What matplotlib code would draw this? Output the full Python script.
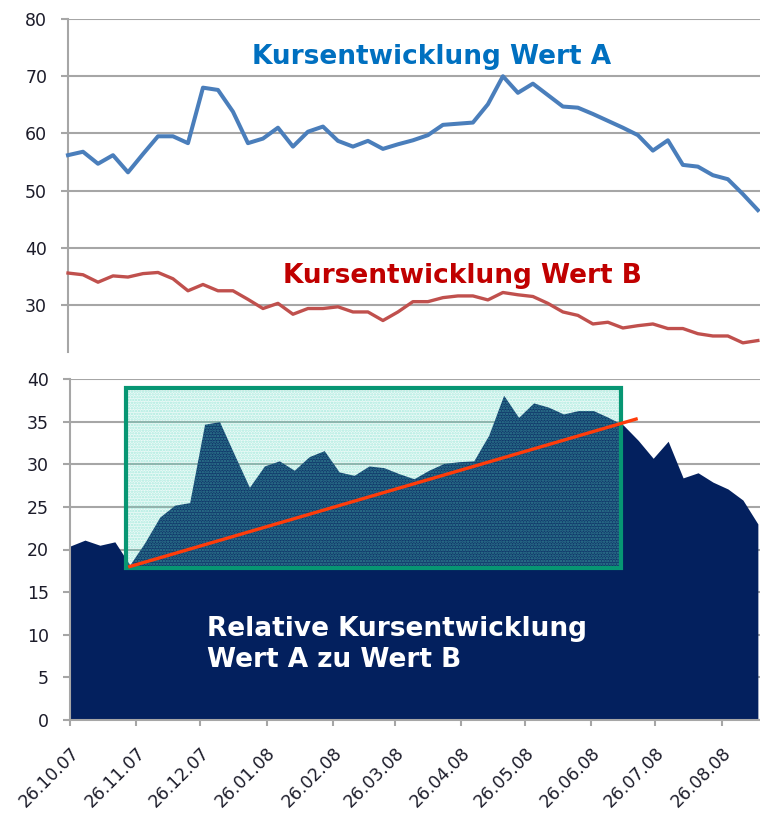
import matplotlib.pyplot as plt
import matplotlib.dates as mdates
from matplotlib.patches import Rectangle
import pandas as pd

# Wochenwerte
start_datum = '2007-10-26'
wert_a = [56.2, 56.8, 54.7, 56.2, 53.2, 56.4, 59.5, 59.5, 58.3, 68.0,
          67.6, 63.8, 58.3, 59.1, 61.0, 57.7, 60.3, 61.2, 58.7, 57.7,
          58.7, 57.3, 58.1, 58.8, 59.7, 61.5, 61.7, 61.9, 65.1, 70.0,
          67.1, 68.7, 66.7, 64.7, 64.5, 63.4, 62.2, 61.0, 59.7, 57.0,
          58.8, 54.5, 54.2, 52.7, 52.0, 49.4, 46.6]
wert_b = [35.6, 35.3, 34.0, 35.1, 34.9, 35.5, 35.7, 34.6, 32.5, 33.6,
          32.5, 32.5, 31.0, 29.4, 30.3, 28.4, 29.4, 29.4, 29.7, 28.8,
          28.8, 27.3, 28.8, 30.6, 30.6, 31.3, 31.6, 31.6, 30.9, 32.2,
          31.8, 31.5, 30.3, 28.8, 28.2, 26.7, 27.0, 26.0, 26.4, 26.7,
          25.9, 25.9, 25.0, 24.6, 24.6, 23.4, 23.8]
relativ = [20.4, 21.1, 20.5, 20.9, 18.2, 20.8, 23.8, 25.2, 25.5, 34.7,
           35.0, 31.1, 27.3, 29.8, 30.4, 29.3, 30.9, 31.6, 29.1, 28.7,
           29.8, 29.6, 28.9, 28.3, 29.3, 30.1, 30.3, 30.4, 33.4, 38.1,
           35.5, 37.2, 36.7, 35.9, 36.3, 36.3, 35.5, 34.6, 32.8, 30.7,
           32.7, 28.4, 29.0, 27.9, 27.1, 25.8, 23.0]
x_labels = ['26.10.07', '26.11.07', '26.12.07', '26.01.08', '26.02.08', '26.03.08',
            '26.04.08', '26.05.08', '26.06.08', '26.07.08', '26.08.08']

# Markierung: Kasten und Trendlinie
kasten_von, kasten_bis = '2007-11-21', '2008-07-10'
kasten_unten, kasten_oben = 17.8, 38.9
trend_x = ['2007-11-23', '2008-07-17']
trend_y = [18.0, 35.3]

datum = pd.date_range(start_datum, periods=len(wert_a), freq='7D')
ticks = pd.to_datetime(x_labels, format='%d.%m.%y')
x_ende = datum[-1] + pd.Timedelta(days=1)

grau = '#a6a6a6'
text_farbe = '#1c1c2a'

fig = plt.figure(figsize=(7.6, 8.13), dpi=100)

#-----------------------------------------------------------------------------------------------
# Oberes Diagramm: Kurse A und B
ax1 = fig.add_axes([68 / 760, 1 - 352 / 813, 692 / 760, 333 / 813])
ax1.plot(datum, wert_a, color='#4a7ebb', lw=2.9, solid_joinstyle='round', clip_on=False, zorder=3)
ax1.plot(datum, wert_b, color='#c0504d', lw=2.4, solid_joinstyle='round', clip_on=False, zorder=3)
ax1.set_xlim(datum[0], x_ende)
ax1.set_ylim(21.8, 80)
ax1.set_yticks([30, 40, 50, 60, 70, 80])
ax1.grid(axis='y', color=grau, lw=1.5)
ax1.set_axisbelow(True)
for s in ['top', 'right', 'bottom']:
    ax1.spines[s].set_visible(False)
ax1.spines['left'].set_color(grau)
ax1.spines['left'].set_linewidth(1.5)
ax1.set_xticks([])
ax1.tick_params(axis='y', length=5, width=1.5, color=grau, pad=10,
                labelsize=12.5, labelcolor=text_farbe)

ax1.text(252 / 760, 1 - 64 / 813, 'Kursentwicklung Wert A', transform=fig.transFigure,
         color='#0070c0', fontsize=19, fontweight='bold', ha='left', va='baseline')
ax1.text(283 / 760, 1 - 283 / 813, 'Kursentwicklung Wert B', transform=fig.transFigure,
         color='#c00000', fontsize=19, fontweight='bold', ha='left', va='baseline')

#-----------------------------------------------------------------------------------------------
# Unteres Diagramm: relative Entwicklung
ax2 = fig.add_axes([70 / 760, 1 - 720 / 813, 690 / 760, 341 / 813])
ax2.fill_between(datum, 0, relativ, color='#03205e', lw=0, zorder=2)
ax2.set_xlim(datum[0], x_ende)
ax2.set_ylim(0, 40)
ax2.set_yticks(range(0, 41, 5))
ax2.grid(axis='y', color=grau, lw=1.5, zorder=0)
ax2.set_axisbelow(True)
for s in ['top', 'right']:
    ax2.spines[s].set_visible(False)
for s in ['left', 'bottom']:
    ax2.spines[s].set_color(grau)
    ax2.spines[s].set_linewidth(1.5)
ax2.set_xticks(ticks)
ax2.set_xticklabels(x_labels, rotation=45, ha='right', va='top', rotation_mode='anchor')
ax2.tick_params(axis='x', length=4.5, width=1.5, color=grau, pad=12.5,
                labelsize=12.4, labelcolor=text_farbe)
ax2.tick_params(axis='y', length=5, width=1.5, color=grau, pad=10,
                labelsize=12.5, labelcolor=text_farbe)

# Kasten mit gepunkteter Fuellung
k0 = mdates.date2num(pd.Timestamp(kasten_von))
k1 = mdates.date2num(pd.Timestamp(kasten_bis))
plt.rcParams['hatch.linewidth'] = 1.2
ax2.add_patch(Rectangle((k0, kasten_unten), k1 - k0, kasten_oben - kasten_unten,
                        facecolor=(0.45, 0.85, 0.78, 0.12), edgecolor=(0.35, 0.85, 0.75, 0.45),
                        hatch='......', lw=0, zorder=3))
ax2.add_patch(Rectangle((k0, kasten_unten), k1 - k0, kasten_oben - kasten_unten,
                        facecolor='none', edgecolor='#079673', lw=3, zorder=5))
ax2.plot(pd.to_datetime(trend_x), trend_y, color='#ff3c0a', lw=2.4, zorder=6)

ax2.text(207 / 760, 1 - 636 / 813, 'Relative Kursentwicklung', transform=fig.transFigure,
         color='white', fontsize=19, fontweight='bold', ha='left', va='baseline', zorder=7)
ax2.text(207 / 760, 1 - 667 / 813, 'Wert A zu Wert B', transform=fig.transFigure,
         color='white', fontsize=19, fontweight='bold', ha='left', va='baseline', zorder=7)

fig.savefig('out.png', dpi=100, facecolor='white')
